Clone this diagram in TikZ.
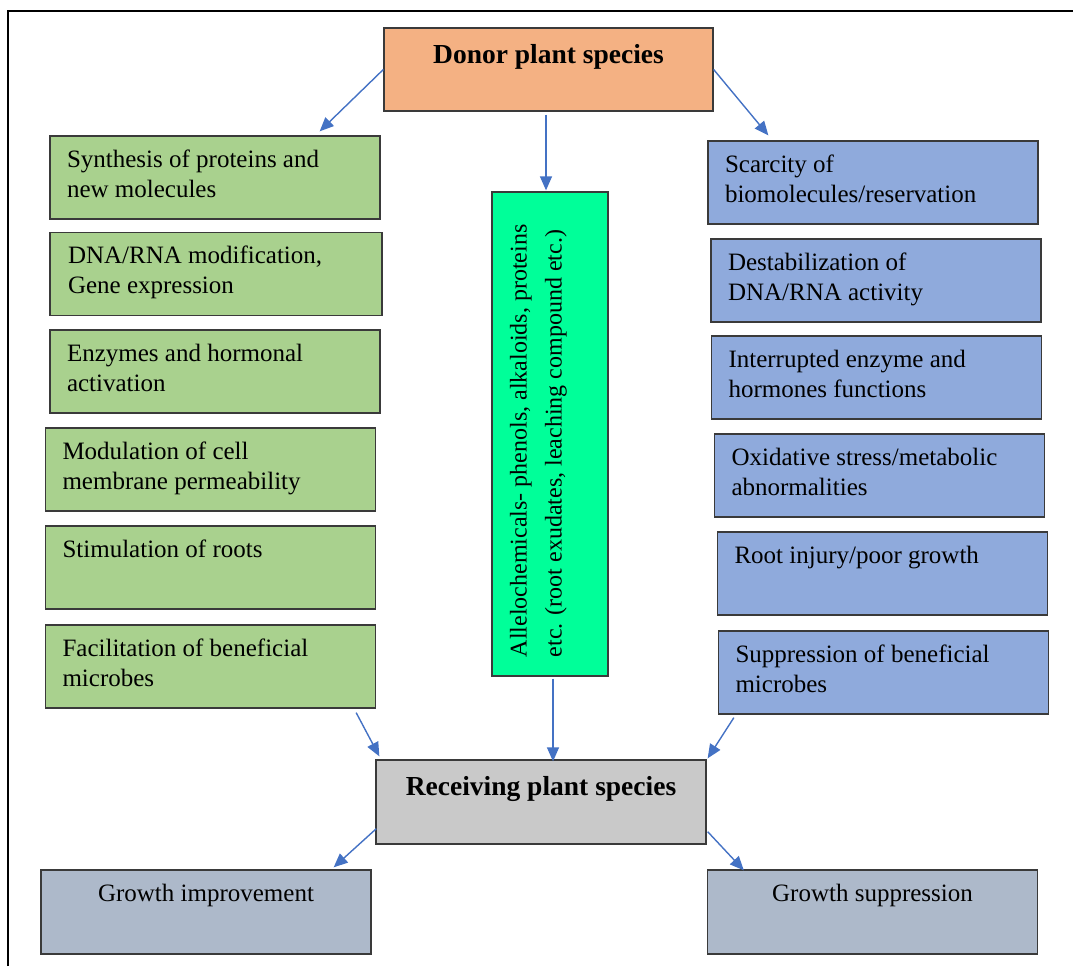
\documentclass[tikz,border=0pt]{standalone}
\usepackage{fontspec}
\setmainfont{Liberation Serif}
\usetikzlibrary{arrows.meta,calc}
\definecolor{donorc}{HTML}{F4B183}
\definecolor{greenc}{HTML}{A9D18E}
\definecolor{bluec}{HTML}{8FAADC}
\definecolor{midc}{HTML}{00FF99}
\definecolor{grayc}{HTML}{C9C9C9}
\definecolor{botc}{HTML}{ADB9CA}
\definecolor{arrc}{HTML}{4472C4}
\definecolor{edgec}{HTML}{3A3A3A}
\newcommand{\boxtext}[1]{\parbox[c][63pt][t]{296pt}{\raggedright\strut #1}}
\newcommand{\ctrtext}[1]{\parbox[c][63pt][t]{296pt}{\centering\strut #1}}
\newcommand{\titletext}[1]{\parbox[c][59pt][t]{305pt}{\centering\bfseries\fontsize{27.5}{33}\selectfont\strut #1}}
\tikzset{
  box/.style={draw=edgec, line width=1.3pt, minimum width=330pt, minimum height=83pt,
    inner xsep=17pt, inner ysep=10pt, font=\fontsize{25}{30}\selectfont},
  titlebox/.style={box, inner xsep=12pt, inner ysep=12pt},
  arr/.style={draw=arrc, line width=1.4pt, -{Triangle[length=14pt,width=12pt]}},
}
\begin{document}
\begin{tikzpicture}[x=1pt,y=-1pt]
\useasboundingbox (0,0) rectangle (1073,966);
\draw[line width=2pt] (8,966) -- (8,11) -- (1073,11);

\node[titlebox, fill=donorc, minimum width=329pt] (donor) at (548.5,69.5) {\titletext{Donor plant species}};

\node[box, fill=greenc] (l1) at (215,177.5) {\boxtext{Synthesis of proteins and\\ new molecules}};
\node[box, fill=greenc, minimum width=332pt] (l2) at (216,274) {\boxtext{DNA/RNA modification,\\ Gene expression}};
\node[box, fill=greenc] (l3) at (215,371.5) {\boxtext{Enzymes and hormonal\\ activation}};
\node[box, fill=greenc, minimum width=329pt] (l4) at (210.5,469.5) {\boxtext{Modulation of cell\\ membrane permeability}};
\node[box, fill=greenc, minimum width=329pt] (l5) at (210.5,567.5) {\boxtext{Stimulation of roots}};
\node[box, fill=greenc, minimum width=329pt] (l6) at (210.5,666.5) {\boxtext{Facilitation of beneficial\\ microbes}};

\node[box, fill=bluec] (r1) at (873,182.5) {\boxtext{Scarcity of\\ biomolecules/reservation}};
\node[box, fill=bluec] (r2) at (876,280.5) {\boxtext{Destabilization of\\ DNA/RNA activity}};
\node[box, fill=bluec, minimum width=329pt] (r3) at (876.5,377.5) {\boxtext{Interrupted enzyme and\\ hormones functions}};
\node[box, fill=bluec, minimum width=329pt] (r4) at (879.5,475.5) {\boxtext{Oxidative stress/metabolic\\ abnormalities}};
\node[box, fill=bluec, minimum width=329pt] (r5) at (882.5,573.5) {\boxtext{Root injury/poor growth}};
\node[box, fill=bluec, minimum width=329pt] (r6) at (883.5,672.5) {\boxtext{Suppression of beneficial\\ microbes}};

\node[draw=edgec, line width=1.3pt, fill=midc, rotate=90, inner xsep=19pt, inner ysep=10pt,
  font=\fontsize{24}{35}\selectfont] (mid) at (550,434)
  {\parbox[c][96pt][t]{446pt}{\raggedright\strut Allelochemicals- phenols, alkaloids, proteins\\ etc. (root exudates, leaching compound etc.)}};

\node[titlebox, fill=grayc, minimum height=84pt] (recv) at (541,802) {\titletext{Receiving plant species}};

\node[box, fill=botc, minimum height=84pt] (gi) at (206,912) {\ctrtext{Growth improvement}};
\node[box, fill=botc, minimum width=329pt, minimum height=84pt] (gs) at (872.5,912) {\ctrtext{Growth suppression}};

\draw[arr] (donor.west) -- ($(l1.north east)+(-61,-4)$);
\draw[arr] ($(donor.south)+(-2.5,3)$) -- ($(mid.east)+(-4,-1)$);
\draw[arr] (donor.east) -- ($(r1.north west)+(61,-5)$);
\draw[arr] ($(l6.south east)+(-20,4)$) -- ($(recv.north west)+(4,-3)$);
\draw[arr] ($(mid.west)+(3,2)$) -- ($(recv.north)+(12,2)$);
\draw[arr] ($(r6.south west)+(16,3)$) -- ($(recv.north east)+(1,-1)$);
\draw[arr] ($(recv.south west)+(1,-16)$) -- ($(gi.north east)+(-38,-2)$);
\draw[arr] ($(recv.south east)+(1,-13)$) -- ($(gs.north west)+(37,1)$);
\end{tikzpicture}
\end{document}
